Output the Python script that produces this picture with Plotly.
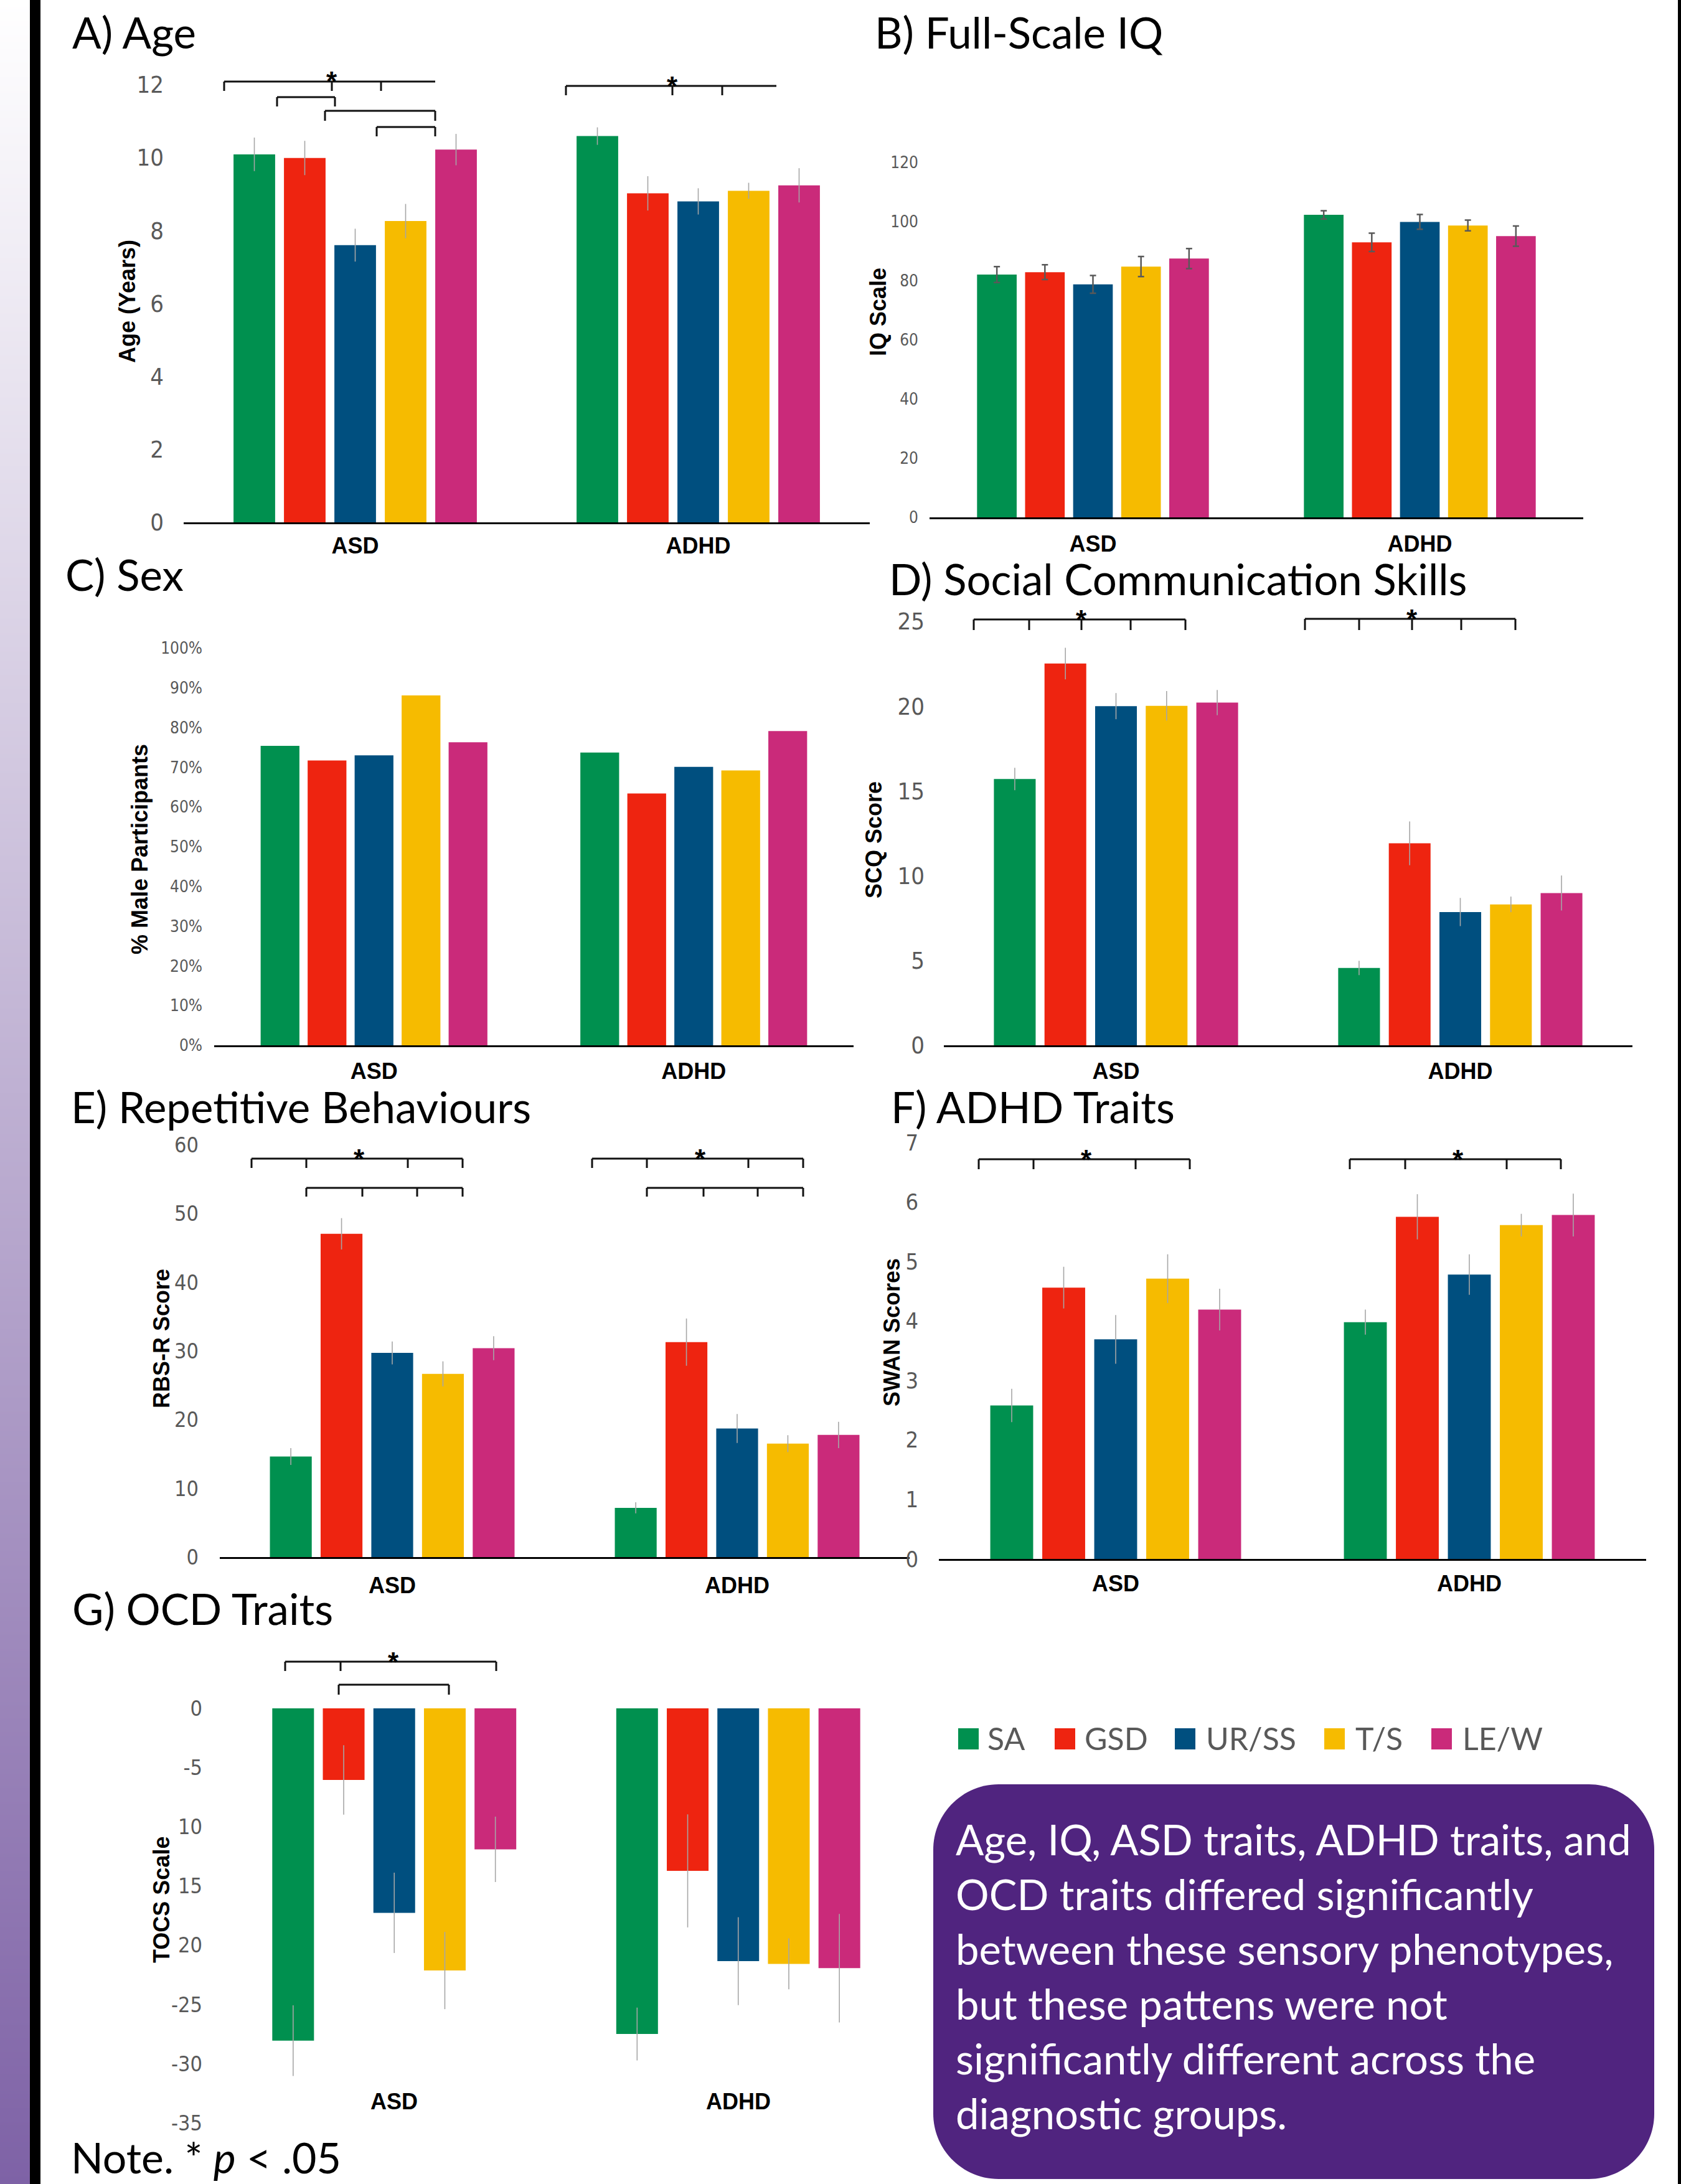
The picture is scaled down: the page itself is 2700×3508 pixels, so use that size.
import plotly.graph_objects as go

W, H = 2700, 3508

# ---------------- data ----------------
phenotypes = ['SA', 'GSD', 'UR/SS', 'T/S', 'LE/W']
colors = ['#00904F', '#EE2410', '#004F7F', '#F6BB00', '#CA2A7A']
groups = ['ASD', 'ADHD']

age_asd = [10.09, 9.99, 7.60, 8.26, 10.22]
age_adhd = [10.59, 9.02, 8.80, 9.09, 9.24]
age_err_asd = [0.46, 0.47, 0.45, 0.47, 0.43]
age_err_adhd = [0.24, 0.47, 0.36, 0.22, 0.47]

iq_asd = [82.1, 82.9, 78.8, 84.8, 87.5]
iq_adhd = [102.3, 93.0, 99.9, 98.7, 95.1]
iq_err_asd = [2.7, 2.5, 3.0, 3.4, 3.4]
iq_err_adhd = [1.4, 3.1, 2.5, 1.8, 3.4]

male_asd = [0.754, 0.717, 0.730, 0.881, 0.763]
male_adhd = [0.737, 0.634, 0.701, 0.692, 0.791]

scq_asd = [15.70, 22.51, 20.00, 20.02, 20.21]
scq_adhd = [4.56, 11.91, 7.86, 8.31, 8.98]
scq_err_asd = [0.66, 0.93, 0.77, 0.87, 0.74]
scq_err_adhd = [0.42, 1.29, 0.83, 0.46, 1.03]

rbs_asd = [14.64, 47.06, 29.72, 26.67, 30.41]
rbs_adhd = [7.17, 31.29, 18.72, 16.51, 17.78]
rbs_err_asd = [1.23, 2.28, 1.67, 1.82, 1.74]
rbs_err_adhd = [0.81, 3.44, 2.11, 1.23, 1.92]

swan_asd = [2.58, 4.56, 3.69, 4.71, 4.19]
swan_adhd = [3.98, 5.75, 4.78, 5.61, 5.78]
swan_err_asd = [0.28, 0.35, 0.41, 0.41, 0.35]
swan_err_adhd = [0.21, 0.38, 0.34, 0.19, 0.36]

tocs_asd = [-28.05, -6.04, -17.26, -22.13, -11.90]
tocs_adhd = [-27.49, -13.72, -21.34, -21.57, -21.93]
tocs_err_asd = [2.98, 2.93, 3.39, 3.26, 2.76]
tocs_err_adhd = [2.23, 4.77, 3.71, 2.15, 4.58]

age_ticks = [0, 2, 4, 6, 8, 10, 12]
iq_ticks = [0, 20, 40, 60, 80, 100, 120]
male_ticks = [0, 0.1, 0.2, 0.3, 0.4, 0.5, 0.6, 0.7, 0.8, 0.9, 1.0]
male_ticktext = ['0%', '10%', '20%', '30%', '40%', '50%', '60%', '70%', '80%', '90%', '100%']
scq_ticks = [0, 5, 10, 15, 20, 25]
rbs_ticks = [0, 10, 20, 30, 40, 50, 60]
swan_ticks = [0, 1, 2, 3, 4, 5, 6, 7]
tocs_ticks = [0, -5, -10, -15, -20, -25, -30, -35]
tocs_ticktext = ['0', '-5', '10', '15', '20', '-25', '-30', '-35']

box_lines = [
    "Age, IQ, ASD traits, ADHD traits, and",
    "OCD traits differed significantly",
    "between these sensory phenotypes,",
    "but these pattens were not",
    "significantly different across the",
    "diagnostic groups.",
]

# ---------------- helpers ----------------
def fx(px):
    return px / W


def fy(py):
    return 1 - py / H


TITLE_FONT = 'Lato, Carlito, Calibri, sans-serif'
NARROW = 'Liberation Sans Narrow, DejaVu Sans Condensed, Arial Narrow, sans-serif'
ARIAL = 'Liberation Sans, Arial, sans-serif'

panels = [
    dict(title='A) Age', ytitle='Age (Years)', asd=age_asd, adhd=age_adhd,
         easd=age_err_asd, eadhd=age_err_adhd, rng=[0, 12], tickvals=age_ticks, ticktext=None,
         geo=dict(x0=295, x1=1397, ytop=136, ybot=839), tsize=38, tstand=31,
         xstand=4, err='thin', title_pos=(114, 52), ytitle_pos=(205, 484)),
    dict(title='B) Full-Scale IQ', ytitle='IQ Scale', asd=iq_asd, adhd=iq_adhd,
         easd=iq_err_asd, eadhd=iq_err_adhd, rng=[0, 120], tickvals=iq_ticks, ticktext=None,
         geo=dict(x0=1493, x1=2543, ytop=261, ybot=831), tsize=26, tstand=17,
         xstand=9, err='cap', title_pos=(1403, 52), ytitle_pos=(1410, 501)),
    dict(title='C) Sex', ytitle='% Male Participants', asd=male_asd, adhd=male_adhd,
         easd=None, eadhd=None, rng=[0, 1], tickvals=male_ticks, ticktext=male_ticktext,
         geo=dict(x0=344, x1=1371, ytop=1041, ybot=1679), tsize=26, tstand=18,
         xstand=8, err=None, title_pos=(103, 923), ytitle_pos=(225, 1364)),
    dict(title='D) Social Communication Skills', ytitle='SCQ Score', asd=scq_asd, adhd=scq_adhd,
         easd=scq_err_asd, eadhd=scq_err_adhd, rng=[0, 25], tickvals=scq_ticks, ticktext=None,
         geo=dict(x0=1516, x1=2622, ytop=998, ybot=1679), tsize=38, tstand=30,
         xstand=8, err='thin', title_pos=(1426, 930), ytitle_pos=(1403, 1349)),
    dict(title='E) Repetitive Behaviours', ytitle='RBS-R Score', asd=rbs_asd, adhd=rbs_adhd,
         easd=rbs_err_asd, eadhd=rbs_err_adhd, rng=[0, 60], tickvals=rbs_ticks, ticktext=None,
         geo=dict(x0=353, x1=1461, ytop=1839, ybot=2501), tsize=34, tstand=33,
         xstand=12, err='thin', title_pos=(112, 1778), ytitle_pos=(259, 2150)),
    dict(title='F) ADHD Traits', ytitle='SWAN Scores', asd=swan_asd, adhd=swan_adhd,
         easd=swan_err_asd, eadhd=swan_err_adhd, rng=[0, 7], tickvals=swan_ticks, ticktext=None,
         geo=dict(x0=1508, x1=2644, ytop=1835, ybot=2504), tsize=36, tstand=32,
         xstand=6, err='thin', title_pos=(1429, 1778), ytitle_pos=(1432, 2140)),
    dict(title='G) OCD Traits', ytitle='TOCS Scale', asd=tocs_asd, adhd=tocs_adhd,
         easd=tocs_err_asd, eadhd=tocs_err_adhd, rng=[-35, 0], tickvals=tocs_ticks,
         ticktext=tocs_ticktext,
         geo=dict(x0=357, x1=1462, ytop=2744, ybot=3410), tsize=34, tstand=31,
         xstand=6, err='thin', title_pos=(114, 2583), ytitle_pos=(259, 3052),
         no_xaxis=True, cat_label_y=3375),
]

# significance brackets (pixel positions on the page): line y, x-left, x-right, tick xs, tick bottom, star x
brackets = [
    dict(y=131, x0=360, x1=699, ticks=[360, 533, 612], yb=146, star=533),
    dict(y=156, x0=445, x1=538, ticks=[445, 538], yb=171, star=None),
    dict(y=178, x0=522, x1=699, ticks=[522, 699], yb=194, star=None),
    dict(y=204, x0=605, x1=699, ticks=[605, 699], yb=219, star=None),
    dict(y=138, x0=909, x1=1247, ticks=[909, 1080, 1160], yb=153, star=1080),
    dict(y=995, x0=1564, x1=1904, ticks=[1564, 1653, 1737, 1816, 1904], yb=1012, star=1737),
    dict(y=994, x0=2096, x1=2434, ticks=[2096, 2183, 2268, 2347, 2434], yb=1012, star=2268),
    dict(y=1861, x0=404, x1=743, ticks=[404, 492, 655, 743], yb=1876, star=577),
    dict(y=1908, x0=492, x1=743, ticks=[492, 582, 670, 743], yb=1922, star=None),
    dict(y=1861, x0=951, x1=1290, ticks=[951, 1039, 1202, 1290], yb=1876, star=1125),
    dict(y=1908, x0=1039, x1=1290, ticks=[1039, 1130, 1217, 1290], yb=1922, star=None),
    dict(y=1862, x0=1572, x1=1911, ticks=[1572, 1660, 1824, 1911], yb=1878, star=1745),
    dict(y=1862, x0=2168, x1=2507, ticks=[2168, 2257, 2420, 2507], yb=1878, star=2342),
    dict(y=2669, x0=458, x1=797, ticks=[458, 547, 797], yb=2684, star=632),
    dict(y=2706, x0=544, x1=721, ticks=[544, 721], yb=2722, star=None),
]

fig = go.Figure()
layout = dict(
    template='none',
    width=W, height=H, autosize=False,
    margin=dict(l=0, r=0, t=0, b=0, pad=0, autoexpand=False),
    paper_bgcolor='white', plot_bgcolor='rgba(0,0,0,0)',
    barmode='group', bargap=0.265, bargroupgap=0.175,
    showlegend=False,
)
annotations = []
shapes = []

for i, p in enumerate(panels, start=1):
    xa = 'x' if i == 1 else f'x{i}'
    ya = 'y' if i == 1 else f'y{i}'
    g = p['geo']
    for k, ph in enumerate(phenotypes):
        err = None
        if p['err'] == 'thin':
            err = dict(type='data', array=[p['easd'][k], p['eadhd'][k]], visible=True,
                       color='#a6a6a6', thickness=1.6, width=0)
        elif p['err'] == 'cap':
            err = dict(type='data', array=[p['easd'][k], p['eadhd'][k]], visible=True,
                       color='#595959', thickness=2.5, width=5)
        fig.add_trace(go.Bar(
            x=groups, y=[p['asd'][k], p['adhd'][k]], name=ph,
            marker=dict(color=colors[k], line=dict(width=0)),
            error_y=err, xaxis=xa, yaxis=ya, showlegend=False,
        ))
    no_x = p.get('no_xaxis', False)
    layout['xaxis' if i == 1 else f'xaxis{i}'] = dict(
        domain=[fx(g['x0']), fx(g['x1'])], anchor=ya, type='category',
        range=[-0.5, 1.5], showline=not no_x, linecolor='#000000', linewidth=3,
        ticks='', showgrid=False, zeroline=False, showticklabels=not no_x,
        tickfont=dict(family=ARIAL, size=36, color='#000000', weight='bold'),
        ticklabelstandoff=p['xstand'], fixedrange=True, automargin=False,
    )
    yax = dict(
        domain=[fy(g['ybot']), fy(g['ytop'])], anchor=xa, range=p['rng'],
        showline=False, showgrid=False, zeroline=False, ticks='',
        tickmode='array', tickvals=p['tickvals'],
        tickfont=dict(family=NARROW, size=p['tsize'], color='#595959'),
        ticklabelstandoff=p['tstand'], fixedrange=True, automargin=False,
    )
    if p['ticktext'] is not None:
        yax['ticktext'] = p['ticktext']
    layout['yaxis' if i == 1 else f'yaxis{i}'] = yax

    # panel heading
    tx, ty = p['title_pos']
    annotations.append(dict(
        text=p['title'], x=fx(tx), y=fy(ty), xref='paper', yref='paper',
        xanchor='left', yanchor='middle', showarrow=False,
        font=dict(family=TITLE_FONT, size=69, color='#000000'),
    ))
    # y axis title
    yx, yy = p['ytitle_pos']
    annotations.append(dict(
        text=p['ytitle'], x=fx(yx), y=fy(yy), xref='paper', yref='paper',
        xanchor='center', yanchor='middle', showarrow=False, textangle=-90,
        font=dict(family=ARIAL, size=36, color='#000000', weight='bold'),
    ))
    if no_x:
        for gname in groups:
            annotations.append(dict(
                text=gname, x=gname, xref=xa, y=fy(p['cat_label_y']), yref='paper',
                xanchor='center', yanchor='middle', showarrow=False,
                font=dict(family=ARIAL, size=36, color='#000000', weight='bold'),
            ))

# left gradient strip (decoration)
fig.add_trace(go.Heatmap(
    z=[[0], [1]], x=[0], y=[0, 1], zsmooth='best', showscale=False,
    colorscale=[[0, '#7e62a6'], [1, '#ffffff']], hoverinfo='skip',
    xaxis='x8', yaxis='y8',
))
layout['xaxis8'] = dict(domain=[0, fx(49)], anchor='y8', range=[-0.5, 0.5], visible=False,
                        fixedrange=True, automargin=False)
layout['yaxis8'] = dict(domain=[0, 1], anchor='x8', range=[0, 1], visible=False,
                        fixedrange=True, automargin=False)

# black vertical rules
shapes.append(dict(type='rect', xref='paper', yref='paper', x0=fx(48), x1=fx(65), y0=0, y1=1,
                   fillcolor='#000000', line=dict(width=0), layer='above'))
shapes.append(dict(type='rect', xref='paper', yref='paper', x0=fx(2695), x1=1, y0=0, y1=1,
                   fillcolor='#000000', line=dict(width=0), layer='above'))

# significance brackets
BR = dict(color='#111111', width=3)
for b in brackets:
    shapes.append(dict(type='line', xref='paper', yref='paper',
                       x0=fx(b['x0']), x1=fx(b['x1']), y0=fy(b['y']), y1=fy(b['y']), line=BR))
    for t in b['ticks']:
        shapes.append(dict(type='line', xref='paper', yref='paper',
                           x0=fx(t), x1=fx(t), y0=fy(b['y']), y1=fy(b['yb']), line=BR))
    if b['star'] is not None:
        annotations.append(dict(text='*', x=fx(b['star']), y=fy(b['y']), xref='paper', yref='paper',
                                xanchor='center', yanchor='middle', showarrow=False,
                                font=dict(family=ARIAL, size=44, color='#000000', weight='bold')))

# legend (manual)
legend_sq_x = [1539, 1694, 1887, 2127, 2299]
legend_txt_x = [1584, 1740, 1935, 2175, 2347]
for k, ph in enumerate(phenotypes):
    shapes.append(dict(type='rect', xref='paper', yref='paper',
                       x0=fx(legend_sq_x[k]), x1=fx(legend_sq_x[k] + 33),
                       y0=fy(2810), y1=fy(2776), fillcolor=colors[k], line=dict(width=0)))
    annotations.append(dict(text=ph, x=fx(legend_txt_x[k]), y=fy(2792), xref='paper', yref='paper',
                            xanchor='left', yanchor='middle', showarrow=False,
                            font=dict(family=TITLE_FONT, size=50, color='#595959')))


# rounded summary box
def rounded_path(x0, y0, x1, y1, r):
    k = 0.5523 * r

    def P(x, y):
        return f"{fx(x):.6f},{fy(y):.6f}"
    return (f"M {P(x0 + r, y0)} L {P(x1 - r, y0)} "
            f"C {P(x1 - r + k, y0)} {P(x1, y0 + r - k)} {P(x1, y0 + r)} "
            f"L {P(x1, y1 - r)} "
            f"C {P(x1, y1 - r + k)} {P(x1 - r + k, y1)} {P(x1 - r, y1)} "
            f"L {P(x0 + r, y1)} "
            f"C {P(x0 + r - k, y1)} {P(x0, y1 - r + k)} {P(x0, y1 - r)} "
            f"L {P(x0, y0 + r)} "
            f"C {P(x0, y0 + r - k)} {P(x0 + r - k, y0)} {P(x0 + r, y0)} Z")


shapes.append(dict(type='path', xref='paper', yref='paper', path=rounded_path(1499, 2866, 2657, 3500, 105),
                   fillcolor='#50247f', line=dict(width=0)))
box_line_y = [2954, 3042, 3130, 3218, 3306, 3394]
for txt, yy in zip(box_lines, box_line_y):
    annotations.append(dict(text=txt, x=fx(1533), y=fy(yy), xref='paper', yref='paper',
                            xanchor='left', yanchor='middle', showarrow=False,
                            font=dict(family=TITLE_FONT, size=67, color='#ffffff')))

# note
annotations.append(dict(text='Note. * <i>p</i> < .05', x=fx(112), y=fy(3464), xref='paper', yref='paper',
                        xanchor='left', yanchor='middle', showarrow=False,
                        font=dict(family=TITLE_FONT, size=68, color='#000000')))

layout['annotations'] = annotations
layout['shapes'] = shapes
fig.update_layout(**layout)
fig.write_html("out.html")
